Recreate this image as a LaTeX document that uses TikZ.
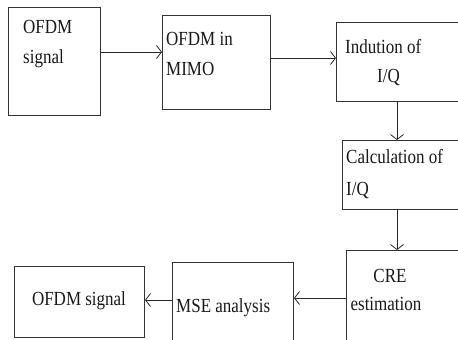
\documentclass[tikz,border=0pt]{standalone}
\usepackage{fontspec}
\newfontfamily\tnr[FakeStretch=0.85]{Liberation Serif}
\usetikzlibrary{arrows.meta}
\begin{document}
\begin{tikzpicture}[x=1pt,y=-1pt,
  box/.style={draw=black!80,line width=1pt,rectangle,inner sep=0pt,anchor=north west},
  lbl/.style={inner sep=0pt,font=\tnr\fontsize{20}{24}\selectfont,text=black!90},
  arr/.style={draw=black!85,line width=0.9pt,-{Straight Barb[length=5pt,width=13pt,line width=0.8pt]}}]
\useasboundingbox (0,0) rectangle (458,340);
\clip (0,0) rectangle (458,340);
\fill[white] (0,0) rectangle (458,340);
% boxes
\node[box,minimum width=92pt,minimum height=108pt] (b1) at (8,7) {};
\node[box,minimum width=108pt,minimum height=94pt] (b2) at (162,15) {};
\node[box,minimum width=134pt,minimum height=79pt] (b3) at (336,22) {};
\node[box,minimum width=128pt,minimum height=69pt] (b4) at (342,140) {};
\node[box,minimum width=124pt,minimum height=100pt] (b5) at (346,250) {};
\node[box,minimum width=121pt,minimum height=88pt] (b6) at (172,262) {};
\node[box,minimum width=130pt,minimum height=71pt] (b7) at (14,266) {};
% labels
\node[lbl,anchor=base west] (t1a) at (23,33) {OFDM};
\node[lbl,anchor=base west] (t1b) at (23,63) {signal};
\node[lbl,anchor=base west] (t2a) at (166,45) {OFDM in};
\node[lbl,anchor=base west] (t2b) at (166,75) {MIMO};
\node[lbl,anchor=base west] (t3a) at (345,53) {Indution of};
\node[lbl,anchor=base west] (t3b) at (377,82) {I/Q};
\node[lbl,anchor=base west] (t4a) at (346,163) {Calculation of};
\node[lbl,anchor=base west] (t4b) at (346,195) {I/Q};
\node[lbl,anchor=base] (t5a) at (390,282) {CRE};
\node[lbl,anchor=base] (t5b) at (386,310) {estimation};
\node[lbl,anchor=base west] (t6) at (176,312) {MSE analysis};
\node[lbl,anchor=base] (t7) at (79,305) {OFDM signal};
% connectors
\draw[arr] (b1.east |- 0,52) -- (b2.west |- 0,52);
\draw[arr] (b2.east |- 0,58) -- (b3.west |- 0,58);
\draw[arr] (b3.south -| 397,0) -- (b4.north -| 397,0);
\draw[arr] (b4.south -| 397,0) -- (b5.north -| 397,0);
\draw[arr] (b5.west |- 0,298) -- (b6.east |- 0,298);
\draw[arr] (b6.west |- 0,300) -- (b7.east |- 0,300);
\end{tikzpicture}
\end{document}
